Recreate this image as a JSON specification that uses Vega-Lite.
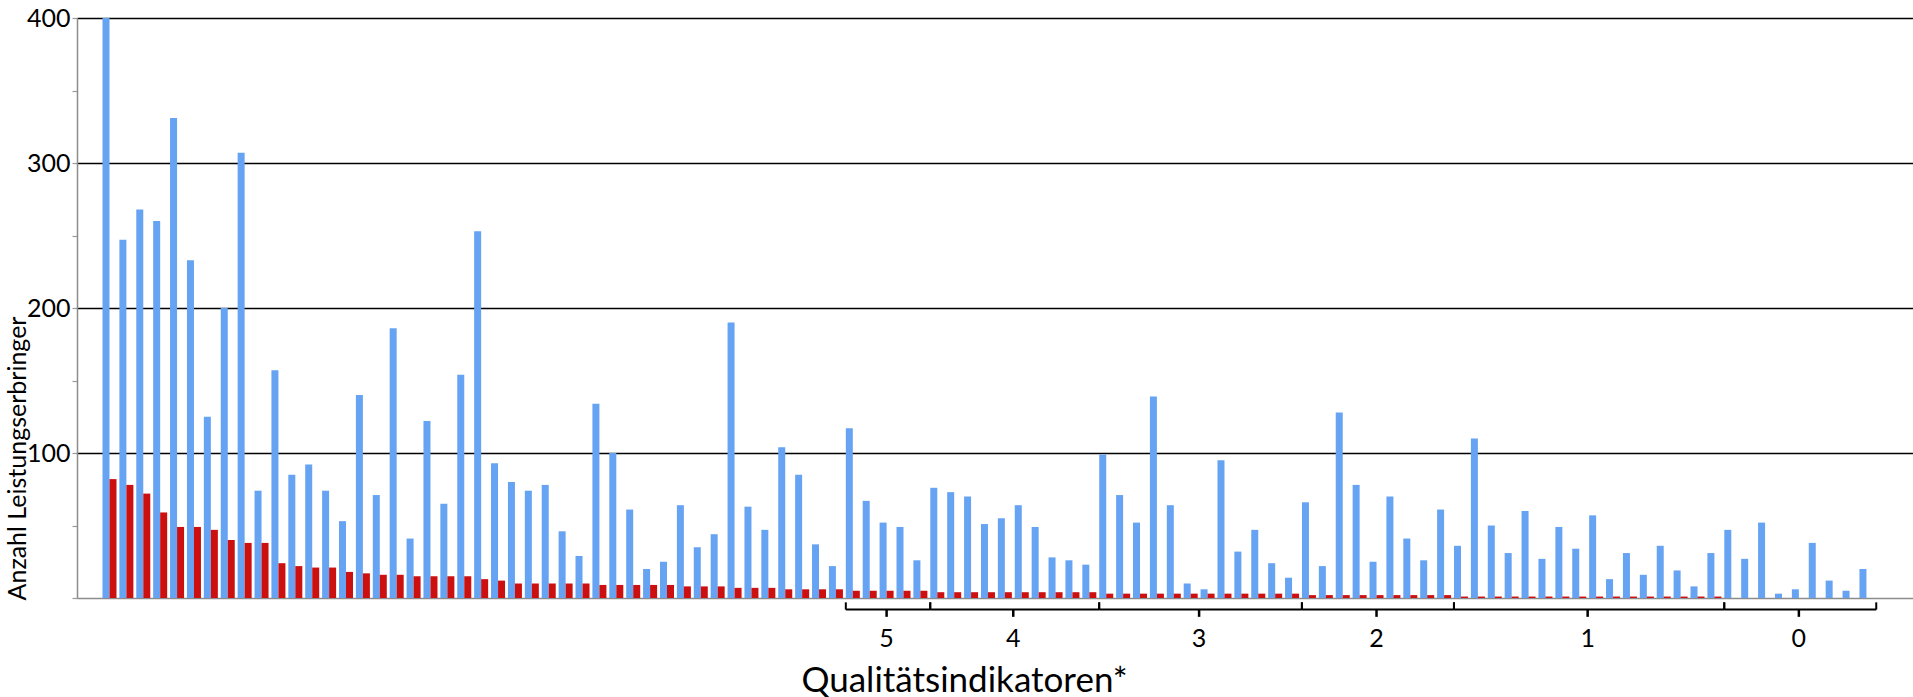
{
  "$schema": "https://vega.github.io/schema/vega-lite/v6.json",
  "width": 1836,
  "height": 580,
  "autosize": "none",
  "padding": {"left": 77, "top": 18, "right": 0, "bottom": 99},
  "background": "white",
  "config": {"view": {"stroke": null}, "font": "Lato"},
  "datasets": {
    "bars": [
      {"qi":1,"gesamt":400,"auffaellig":82},{"qi":2,"gesamt":247,"auffaellig":78},{"qi":3,"gesamt":268,"auffaellig":72},{"qi":4,"gesamt":260,"auffaellig":59},{"qi":5,"gesamt":331,"auffaellig":49},
      {"qi":6,"gesamt":233,"auffaellig":49},{"qi":7,"gesamt":125,"auffaellig":47},{"qi":8,"gesamt":200,"auffaellig":40},{"qi":9,"gesamt":307,"auffaellig":38},{"qi":10,"gesamt":74,"auffaellig":38},
      {"qi":11,"gesamt":157,"auffaellig":24},{"qi":12,"gesamt":85,"auffaellig":22},{"qi":13,"gesamt":92,"auffaellig":21},{"qi":14,"gesamt":74,"auffaellig":21},{"qi":15,"gesamt":53,"auffaellig":18},
      {"qi":16,"gesamt":140,"auffaellig":17},{"qi":17,"gesamt":71,"auffaellig":16},{"qi":18,"gesamt":186,"auffaellig":16},{"qi":19,"gesamt":41,"auffaellig":15},{"qi":20,"gesamt":122,"auffaellig":15},
      {"qi":21,"gesamt":65,"auffaellig":15},{"qi":22,"gesamt":154,"auffaellig":15},{"qi":23,"gesamt":253,"auffaellig":13},{"qi":24,"gesamt":93,"auffaellig":12},{"qi":25,"gesamt":80,"auffaellig":10},
      {"qi":26,"gesamt":74,"auffaellig":10},{"qi":27,"gesamt":78,"auffaellig":10},{"qi":28,"gesamt":46,"auffaellig":10},{"qi":29,"gesamt":29,"auffaellig":10},{"qi":30,"gesamt":134,"auffaellig":9},
      {"qi":31,"gesamt":100,"auffaellig":9},{"qi":32,"gesamt":61,"auffaellig":9},{"qi":33,"gesamt":20,"auffaellig":9},{"qi":34,"gesamt":25,"auffaellig":9},{"qi":35,"gesamt":64,"auffaellig":8},
      {"qi":36,"gesamt":35,"auffaellig":8},{"qi":37,"gesamt":44,"auffaellig":8},{"qi":38,"gesamt":190,"auffaellig":7},{"qi":39,"gesamt":63,"auffaellig":7},{"qi":40,"gesamt":47,"auffaellig":7},
      {"qi":41,"gesamt":104,"auffaellig":6},{"qi":42,"gesamt":85,"auffaellig":6},{"qi":43,"gesamt":37,"auffaellig":6},{"qi":44,"gesamt":22,"auffaellig":6},{"qi":45,"gesamt":117,"auffaellig":5},
      {"qi":46,"gesamt":67,"auffaellig":5},{"qi":47,"gesamt":52,"auffaellig":5},{"qi":48,"gesamt":49,"auffaellig":5},{"qi":49,"gesamt":26,"auffaellig":5},{"qi":50,"gesamt":76,"auffaellig":4},
      {"qi":51,"gesamt":73,"auffaellig":4},{"qi":52,"gesamt":70,"auffaellig":4},{"qi":53,"gesamt":51,"auffaellig":4},{"qi":54,"gesamt":55,"auffaellig":4},{"qi":55,"gesamt":64,"auffaellig":4},
      {"qi":56,"gesamt":49,"auffaellig":4},{"qi":57,"gesamt":28,"auffaellig":4},{"qi":58,"gesamt":26,"auffaellig":4},{"qi":59,"gesamt":23,"auffaellig":4},{"qi":60,"gesamt":99,"auffaellig":3},
      {"qi":61,"gesamt":71,"auffaellig":3},{"qi":62,"gesamt":52,"auffaellig":3},{"qi":63,"gesamt":139,"auffaellig":3},{"qi":64,"gesamt":64,"auffaellig":3},{"qi":65,"gesamt":10,"auffaellig":3},
      {"qi":66,"gesamt":6,"auffaellig":3},{"qi":67,"gesamt":95,"auffaellig":3},{"qi":68,"gesamt":32,"auffaellig":3},{"qi":69,"gesamt":47,"auffaellig":3},{"qi":70,"gesamt":24,"auffaellig":3},
      {"qi":71,"gesamt":14,"auffaellig":3},{"qi":72,"gesamt":66,"auffaellig":2},{"qi":73,"gesamt":22,"auffaellig":2},{"qi":74,"gesamt":128,"auffaellig":2},{"qi":75,"gesamt":78,"auffaellig":2},
      {"qi":76,"gesamt":25,"auffaellig":2},{"qi":77,"gesamt":70,"auffaellig":2},{"qi":78,"gesamt":41,"auffaellig":2},{"qi":79,"gesamt":26,"auffaellig":2},{"qi":80,"gesamt":61,"auffaellig":2},
      {"qi":81,"gesamt":36,"auffaellig":1},{"qi":82,"gesamt":110,"auffaellig":1},{"qi":83,"gesamt":50,"auffaellig":1},{"qi":84,"gesamt":31,"auffaellig":1},{"qi":85,"gesamt":60,"auffaellig":1},
      {"qi":86,"gesamt":27,"auffaellig":1},{"qi":87,"gesamt":49,"auffaellig":1},{"qi":88,"gesamt":34,"auffaellig":1},{"qi":89,"gesamt":57,"auffaellig":1},{"qi":90,"gesamt":13,"auffaellig":1},
      {"qi":91,"gesamt":31,"auffaellig":1},{"qi":92,"gesamt":16,"auffaellig":1},{"qi":93,"gesamt":36,"auffaellig":1},{"qi":94,"gesamt":19,"auffaellig":1},{"qi":95,"gesamt":8,"auffaellig":1},
      {"qi":96,"gesamt":31,"auffaellig":1},{"qi":97,"gesamt":47,"auffaellig":0},{"qi":98,"gesamt":27,"auffaellig":0},{"qi":99,"gesamt":52,"auffaellig":0},{"qi":100,"gesamt":3,"auffaellig":0},
      {"qi":101,"gesamt":6,"auffaellig":0},{"qi":102,"gesamt":38,"auffaellig":0},{"qi":103,"gesamt":12,"auffaellig":0},{"qi":104,"gesamt":5,"auffaellig":0},{"qi":105,"gesamt":20,"auffaellig":0}
    ],
    "groups": [
      {"label":"5","first":45,"last":49,"mid":47},
      {"label":"4","first":50,"last":59,"mid":54},
      {"label":"3","first":60,"last":71,"mid":65},
      {"label":"2","first":72,"last":80,"mid":76},
      {"label":"1","first":81,"last":96,"mid":88},
      {"label":"0","first":97,"last":105,"mid":101}
    ]
  },
  "layer": [
    {
      "data": {"name": "bars"},
      "transform": [{"fold": ["gesamt", "auffaellig"], "as": ["serie", "anzahl"]}],
      "mark": {"type": "bar"},
      "encoding": {
        "x": {
          "field": "qi", "type": "ordinal",
          "scale": {
            "domain": [0,1,2,3,4,5,6,7,8,9,10,11,12,13,14,15,16,17,18,19,20,21,22,23,24,25,26,27,28,29,30,31,32,33,34,35,36,37,38,39,40,41,42,43,44,45,46,47,48,49,50,51,52,53,54,55,56,57,58,59,60,61,62,63,64,65,66,67,68,69,70,71,72,73,74,75,76,77,78,79,80,81,82,83,84,85,86,87,88,89,90,91,92,93,94,95,96,97,98,99,100,101,102,103,104,105,106],
            "paddingInner": 0.171, "paddingOuter": 0.925, "align": 0.275
          },
          "axis": {
            "labels": false, "ticks": false, "grid": false,
            "domainColor": "#8c8c8c", "domainWidth": 1.5,
            "title": "Qualitätsindikatoren*", "titleFont": "Lato", "titleFontSize": 35,
            "titleFontWeight": "normal", "titleColor": "black",
            "titleX": 887, "titleY": 93, "titleAlign": "center", "titleBaseline": "alphabetic"
          }
        },
        "xOffset": {"field": "serie", "type": "nominal", "sort": ["gesamt", "auffaellig"], "scale": {"paddingInner": 0, "paddingOuter": 0}},
        "y": {
          "field": "anzahl", "type": "quantitative",
          "scale": {"domain": [0, 400], "nice": false},
          "axis": {
            "values": [0, 50, 100, 150, 200, 250, 300, 350, 400],
            "labelExpr": "datum.value > 0 && datum.value % 100 === 0 ? datum.label : ''",
            "labelFont": "Lato", "labelFontSize": 25, "labelColor": "black", "labelPadding": 2,
            "tickSize": 5, "tickColor": "#9a9a9a", "tickWidth": 1.2,
            "domainColor": "#8c8c8c", "domainWidth": 1.5,
            "grid": true, "gridColor": "black", "gridWidth": 1.5,
            "gridOpacity": {"condition": {"test": "datum.value > 0 && datum.value % 100 === 0", "value": 1}, "value": 0},
            "title": "Anzahl Leistungserbringer", "titleFont": "Lato", "titleFontSize": 25,
            "titleFontWeight": "normal", "titleColor": "black",
            "titleAngle": -90, "titleX": -60, "titleY": 440, "titleAlign": "center", "titleBaseline": "middle"
          }
        },
        "color": {"field": "serie", "type": "nominal", "scale": {"domain": ["gesamt", "auffaellig"], "range": ["#66a3f2", "#cc1010"]}, "legend": null}
      }
    },
    {
      "data": {"name": "groups"},
      "mark": {"type": "rule", "color": "black", "strokeWidth": 2},
      "encoding": {
        "x": {"field": "first", "type": "ordinal", "bandPosition": 0},
        "x2": {"field": "last", "bandPosition": 1.2},
        "y": {"datum": -8, "type": "quantitative"}
      }
    },
    {
      "data": {"name": "groups"},
      "mark": {"type": "rule", "color": "black", "strokeWidth": 2},
      "encoding": {
        "x": {"field": "first", "type": "ordinal", "bandPosition": 0},
        "y": {"datum": -8, "type": "quantitative"},
        "y2": {"datum": -3}
      }
    },
    {
      "data": {"name": "groups"},
      "mark": {"type": "rule", "color": "black", "strokeWidth": 2},
      "encoding": {
        "x": {"field": "last", "type": "ordinal", "bandPosition": 1.2},
        "y": {"datum": -8, "type": "quantitative"},
        "y2": {"datum": -3}
      }
    },
    {
      "data": {"name": "groups"},
      "transform": [{"filter": "(datum.last - datum.first) % 2 === 0"}],
      "layer": [
        {
          "mark": {"type": "rule", "color": "black", "strokeWidth": 2.5},
          "encoding": {
            "x": {"field": "mid", "type": "ordinal", "bandPosition": 0.5},
            "y": {"datum": -8, "type": "quantitative"},
            "y2": {"datum": -13}
          }
        },
        {
          "mark": {"type": "text", "font": "Lato", "fontSize": 25, "color": "black", "baseline": "middle", "align": "center"},
          "encoding": {
            "x": {"field": "mid", "type": "ordinal", "bandPosition": 0.5},
            "y": {"datum": -28, "type": "quantitative"},
            "text": {"field": "label"}
          }
        }
      ]
    },
    {
      "data": {"name": "groups"},
      "transform": [{"filter": "(datum.last - datum.first) % 2 === 1"}],
      "layer": [
        {
          "mark": {"type": "rule", "color": "black", "strokeWidth": 2.5},
          "encoding": {
            "x": {"field": "mid", "type": "ordinal", "bandPosition": 1.1},
            "y": {"datum": -8, "type": "quantitative"},
            "y2": {"datum": -13}
          }
        },
        {
          "mark": {"type": "text", "font": "Lato", "fontSize": 25, "color": "black", "baseline": "middle", "align": "center"},
          "encoding": {
            "x": {"field": "mid", "type": "ordinal", "bandPosition": 1.1},
            "y": {"datum": -28, "type": "quantitative"},
            "text": {"field": "label"}
          }
        }
      ]
    }
  ]
}
